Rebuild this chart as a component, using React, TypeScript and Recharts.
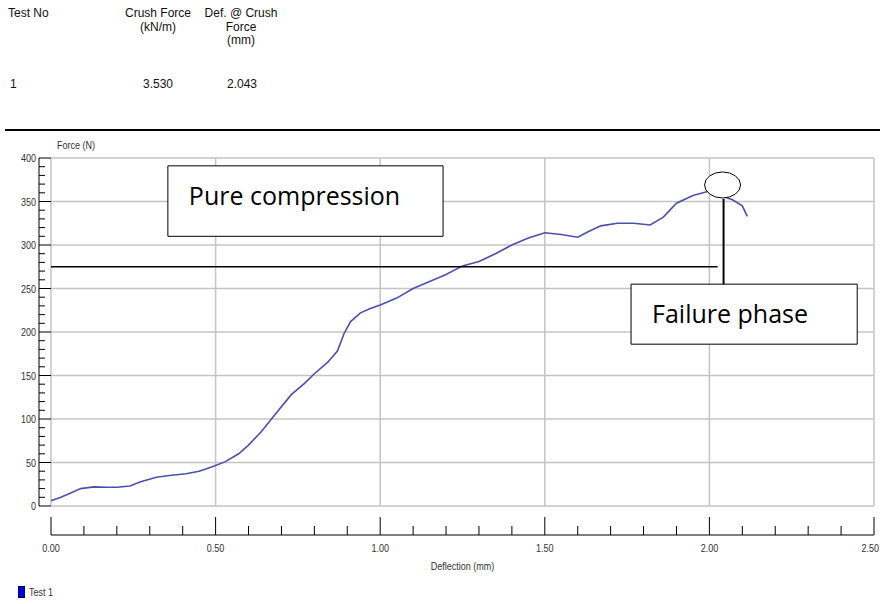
import { LineChart, Line, XAxis, YAxis, CartesianGrid, ReferenceLine, ReferenceArea, ReferenceDot, Legend } from 'recharts';

// crush test record, force vs deflection
const DEFLECTION_MM = [
  0, 0.03, 0.06, 0.09, 0.13, 0.17, 0.2, 0.24, 0.27, 0.32, 0.36, 0.41, 0.45, 0.49, 0.53, 0.57, 0.6, 0.64,
  0.68, 0.73, 0.77, 0.8, 0.84, 0.87, 0.89, 0.91, 0.94, 0.97, 1.0, 1.05, 1.1, 1.15, 1.2, 1.25, 1.3, 1.35,
  1.4, 1.45, 1.5, 1.55, 1.6, 1.63, 1.67, 1.72, 1.77, 1.82, 1.86, 1.9, 1.95, 2.0, 2.04, 2.07, 2.1, 2.115,
];
const FORCE_N = [
  6, 10, 15, 20, 22, 21.5, 21.5, 23, 27.5, 33, 35, 37, 40, 45, 51, 60, 70, 86,
  105, 128, 141, 152, 165, 178, 198, 212, 222, 227, 231, 239, 250, 258, 266, 276, 281, 290,
  300, 308, 314, 312, 309, 315, 322, 325, 325, 323, 332, 348, 357, 362, 356, 352, 345, 333,
];

const X_TICKS = [
  0, 0.1, 0.2, 0.3, 0.4, 0.5, 0.6, 0.7, 0.8, 0.9, 1, 1.1, 1.2, 1.3, 1.4, 1.5, 1.6, 1.7, 1.8, 1.9, 2, 2.1,
  2.2, 2.3, 2.4, 2.5,
];
const X_GRID = [0, 0.5, 1, 1.5, 2, 2.5];
const Y_TICKS = [
  0, 10, 20, 30, 40, 50, 60, 70, 80, 90, 100, 110, 120, 130, 140, 150, 160, 170, 180, 190, 200, 210, 220,
  230, 240, 250, 260, 270, 280, 290, 300, 310, 320, 330, 340, 350, 360, 370, 380, 390, 400,
];
const Y_GRID = [0, 50, 100, 150, 200, 250, 300, 350, 400];

const CRUSH_FORCE = '3.530';
const CRUSH_DEF = '2.043';
const COMPRESSION_LEVEL_N = 275;
const FAILURE_DEF_MM = 2.043;

const data = DEFLECTION_MM.map((d, i) => ({ d, f: FORCE_N[i] }));

const W = 880;
const H = 604;
const MARGIN = { top: 158, right: 6, left: 0, bottom: 28 };
const Y_AXIS_W = 51;
const X_AXIS_H = 70;
const PLOT_W = W - MARGIN.left - MARGIN.right - Y_AXIS_W;
const PLOT_H = H - MARGIN.top - MARGIN.bottom - X_AXIS_H;

const SANS = "'Liberation Sans', Arial, sans-serif";
const NOTE_FONT = "'Open Sans', 'Noto Sans', sans-serif";
const GRID = '#c4c4c4';

// no narrow face installed, so squeeze Liberation Sans horizontally
function NarrowText({ x, y, anchor = 'start', children }: any) {
  return (
    <text
      transform={`translate(${x},${y}) scale(0.82,1)`}
      textAnchor={anchor}
      fontFamily={SANS}
      fontSize={11}
      fill="#333"
    >
      {children}
    </text>
  );
}

function XTick(props: any) {
  const { x, y, payload, index } = props;
  const v = Number(payload.value);
  const major = X_GRID.includes(v);
  const lineY = y + 29;
  const last = index === X_TICKS.length - 1;
  return (
    <g>
      {index === 0 && <line x1={x} x2={x + PLOT_W} y1={lineY} y2={lineY} stroke="#000" />}
      <line x1={x} x2={x} y1={major ? y + 11 : y + 20} y2={lineY} stroke="#000" />
      {major && (
        <NarrowText x={last ? x + 5 : x} y={y + 46} anchor={last ? 'end' : 'middle'}>
          {v.toFixed(2)}
        </NarrowText>
      )}
    </g>
  );
}

function YTick(props: any) {
  const { x, y, payload, index } = props;
  const v = Number(payload.value);
  const major = v % 50 === 0;
  const axisX = x - 12;
  return (
    <g>
      {index === 0 && <line x1={axisX} x2={axisX} y1={y} y2={y - PLOT_H} stroke="#000" />}
      <line x1={axisX} x2={major ? x : axisX + 6} y1={y} y2={y} stroke="#000" />
      {major && (
        <NarrowText x={axisX - 3} y={y + 4} anchor="end">
          {v}
        </NarrowText>
      )}
      {v === 400 && (
        <NarrowText x={x + 6} y={y - 9}>
          Force (N)
        </NarrowText>
      )}
    </g>
  );
}

function XTitle(props: any) {
  const { viewBox } = props;
  return (
    <NarrowText x={viewBox.x + viewBox.width / 2} y={viewBox.y + 64} anchor="middle">
      Deflection (mm)
    </NarrowText>
  );
}

function NoteLabel(props: any) {
  const { viewBox, text } = props;
  return (
    <text x={viewBox.x + 21} y={viewBox.y + 39} fontFamily={NOTE_FONT} fontSize={25} fill="#000">
      {text}
    </text>
  );
}

function FailureMark(props: any) {
  return <ellipse cx={props.cx} cy={props.cy} rx={18} ry={13} fill="#fff" stroke="#000" strokeWidth={1} />;
}

function LegendBox() {
  return (
    <div style={{ display: 'flex', alignItems: 'center', gap: 4 }}>
      <span style={{ width: 5, height: 10, background: '#0000e0', border: '1px solid #000060' }} />
      <svg width={40} height={14}>
        <NarrowText x={0} y={11}>
          Test 1
        </NarrowText>
      </svg>
    </div>
  );
}

const cell = { position: 'absolute' as const, fontFamily: SANS, fontSize: 12, color: '#111', lineHeight: '13.5px' };

export default function App() {
  return (
    <div style={{ position: 'absolute', left: 0, top: 0, width: W, height: H, background: '#fff', overflow: 'hidden' }}>
      <div style={{ ...cell, left: 8, top: 7 }}>Test No</div>
      <div style={{ ...cell, left: 113, top: 7, width: 90, textAlign: 'center' }}>
        Crush Force
        <br />
        (kN/m)
      </div>
      <div style={{ ...cell, left: 196, top: 7, width: 90, textAlign: 'center' }}>
        Def. @ Crush
        <br />
        Force
        <br />
        (mm)
      </div>
      <div style={{ ...cell, left: 10, top: 78 }}>1</div>
      <div style={{ ...cell, left: 113, top: 78, width: 90, textAlign: 'center' }}>{CRUSH_FORCE}</div>
      <div style={{ ...cell, left: 197, top: 78, width: 90, textAlign: 'center' }}>{CRUSH_DEF}</div>
      <div style={{ position: 'absolute', left: 5, top: 129, width: W - 5, height: 2, background: '#000' }} />

      <div style={{ position: 'absolute', left: 0, top: 0 }}>
        <LineChart width={W} height={H} data={data} margin={MARGIN}>
          <CartesianGrid
            stroke={GRID}
            strokeWidth={1.5}
            verticalValues={X_GRID}
            horizontalValues={Y_GRID}
            syncWithTicks={false}
          />
          <XAxis
            dataKey="d"
            type="number"
            domain={[0, 2.5]}
            ticks={X_TICKS}
            interval={0}
            height={X_AXIS_H}
            tickSize={0}
            tickMargin={0}
            axisLine={false}
            tickLine={false}
            tick={<XTick />}
            label={<XTitle />}
          />
          <YAxis
            type="number"
            domain={[0, 400]}
            ticks={Y_TICKS}
            interval={0}
            width={Y_AXIS_W}
            tickSize={0}
            tickMargin={0}
            axisLine={false}
            tickLine={false}
            tick={<YTick />}
          />
          <Line
            dataKey="f"
            name="Test 1"
            stroke="#4b50b0"
            strokeWidth={1.6}
            dot={false}
            type="linear"
            isAnimationActive={false}
          />
          <ReferenceLine
            segment={[{ x: 0, y: COMPRESSION_LEVEL_N }, { x: 2.025, y: COMPRESSION_LEVEL_N }]}
            stroke="#000"
            strokeWidth={1.5}
          />
          <ReferenceLine
            segment={[{ x: FAILURE_DEF_MM, y: 353 }, { x: FAILURE_DEF_MM, y: 255 }]}
            stroke="#000"
            strokeWidth={2}
          />
          <ReferenceArea
            x1={0.355}
            x2={1.191}
            y1={310}
            y2={391}
            fill="#fff"
            fillOpacity={1}
            stroke="#000"
            strokeWidth={1}
            label={<NoteLabel text="Pure compression" />}
          />
          <ReferenceArea
            x1={1.762}
            x2={2.449}
            y1={186}
            y2={255}
            fill="#fff"
            fillOpacity={1}
            stroke="#000"
            strokeWidth={1}
            label={<NoteLabel text="Failure phase" />}
          />
          <ReferenceDot x={2.04} y={369} shape={<FailureMark />} />
          <Legend
            layout="vertical"
            verticalAlign="middle"
            align="center"
            content={<LegendBox />}
            wrapperStyle={{ left: 18, top: 585, width: 80, height: 14 }}
          />
        </LineChart>
      </div>
    </div>
  );
}
